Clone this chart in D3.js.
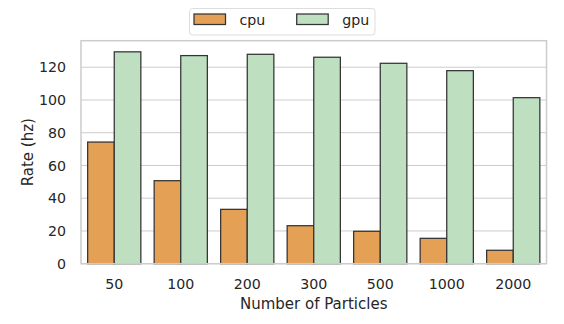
<!DOCTYPE html>
<html>
<head>
<meta charset="utf-8">
<script src="https://cdn.jsdelivr.net/npm/d3@7"></script>
<style>
  body { margin: 0; background: #fff; }
  text { font-family: "DejaVu Sans", sans-serif; fill: #262626; }
</style>
</head>
<body>
<div id="chart"></div>
<script>
let particles = ["50", "100", "200", "300", "500", "1000", "2000"];
let cpuRate = [74.3, 50.7, 33.2, 23.2, 19.8, 15.5, 8.2];
let gpuRate = [129.4, 127.1, 127.9, 126.1, 122.4, 117.9, 101.4];
let yTicks = [0, 20, 40, 60, 80, 100, 120];
let seriesNames = ["cpu", "gpu"];
let seriesColors = ["#e4a055", "#bfdfc1"];

let svgWidth = 564;
let svgHeight = 324;
let margin = { top: 40.7, left: 81, right: 17.5, bottom: 60.3 };
let width = svgWidth - margin.left - margin.right;
let height = svgHeight - margin.top - margin.bottom;

let svg = d3.select("#chart")
    .append("svg")
    .attr("width", svgWidth)
    .attr("height", svgHeight);

let chartgroup = svg.append("g")
    .attr("transform", `translate(${margin.left}, ${margin.top})`);

let xScale = d3.scaleBand()
    .domain(particles)
    .range([0, width])
    .paddingInner(0.2)
    .paddingOuter(0.1);

let hueScale = d3.scaleBand()
    .domain(seriesNames)
    .range([0, xScale.bandwidth()]);

let yScale = d3.scaleLinear()
    .domain([0, 136.2])
    .range([height, 0]);

// grid
chartgroup.append("g")
    .selectAll("line")
    .data(yTicks)
    .enter()
    .append("line")
    .attr("x1", 0)
    .attr("x2", width)
    .attr("y1", d => yScale(d))
    .attr("y2", d => yScale(d))
    .attr("stroke", "#cccccc")
    .attr("stroke-width", 1);

let data = [];
particles.forEach(function(p, i) {
    data.push({ p: p, s: "cpu", v: cpuRate[i] });
    data.push({ p: p, s: "gpu", v: gpuRate[i] });
});

chartgroup.append("g")
    .selectAll("rect")
    .data(data)
    .enter()
    .append("rect")
    .attr("x", d => xScale(d.p) + hueScale(d.s))
    .attr("y", d => yScale(d.v))
    .attr("width", hueScale.bandwidth())
    .attr("height", d => height - yScale(d.v))
    .attr("fill", d => seriesColors[seriesNames.indexOf(d.s)])
    .attr("stroke", "#333333")
    .attr("stroke-width", 1.25);

// spines
chartgroup.append("rect")
    .attr("x", 0)
    .attr("y", 0)
    .attr("width", width)
    .attr("height", height)
    .attr("fill", "none")
    .attr("stroke", "#cccccc")
    .attr("stroke-width", 1.5);

// axes
let bottomAxis = d3.axisBottom(xScale).tickSize(0).tickPadding(15);
let leftAxis = d3.axisLeft(yScale).tickValues(yTicks).tickSize(0).tickPadding(15);

let xAxis = chartgroup.append("g")
    .attr("transform", `translate(0, ${height})`)
    .call(bottomAxis);
let yAxis = chartgroup.append("g")
    .call(leftAxis);
[xAxis, yAxis].forEach(function(a) {
    a.select(".domain").remove();
    a.selectAll("text")
        .attr("font-family", "DejaVu Sans")
        .attr("font-size", "14.2px")
        .attr("fill", "#262626");
});

chartgroup.append("text")
    .attr("x", width / 2)
    .attr("y", height + 45.6)
    .attr("text-anchor", "middle")
    .attr("font-size", "15px")
    .text("Number of Particles");

chartgroup.append("text")
    .attr("transform", "rotate(-90)")
    .attr("x", -height / 2)
    .attr("y", -48)
    .attr("text-anchor", "middle")
    .attr("font-size", "15px")
    .text("Rate (hz)");

// legend
let legend = svg.append("g");
legend.append("rect")
    .attr("x", 189.5)
    .attr("y", 8.5)
    .attr("width", 185.5)
    .attr("height", 26.5)
    .attr("rx", 3)
    .attr("fill", "#ffffff")
    .attr("stroke", "#dddddd")
    .attr("stroke-width", 1);

let legendX = [194, 296.7];
seriesNames.forEach(function(name, i) {
    legend.append("rect")
        .attr("x", legendX[i])
        .attr("y", 14)
        .attr("width", 31.5)
        .attr("height", 10.5)
        .attr("fill", seriesColors[i])
        .attr("stroke", "#333333")
        .attr("stroke-width", 1.25);
    legend.append("text")
        .attr("x", legendX[i] + 45.5)
        .attr("y", 24.5)
        .attr("font-size", "14.2px")
        .text(name);
});
</script>
</body>
</html>
